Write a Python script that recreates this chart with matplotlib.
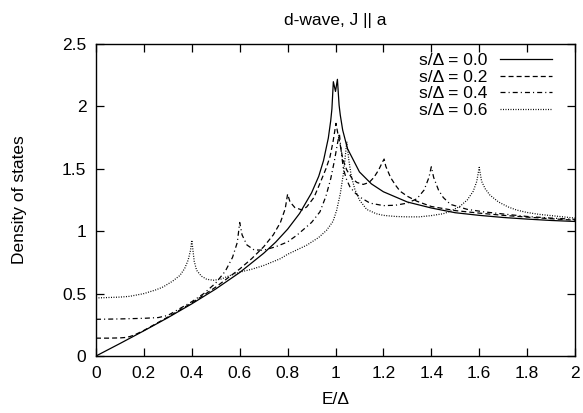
import matplotlib
matplotlib.use("Agg")
import matplotlib.pyplot as plt

plt.rcParams['font.family'] = ['Liberation Sans', 'DejaVu Sans']
plt.rcParams['lines.scale_dashes'] = False

# ---- data ----
e_s00 = [0, 0.1, 0.2, 0.3, 0.4, 0.5, 0.6, 0.7, 0.75, 0.8, 0.85, 0.9, 0.93, 0.95,
         0.97, 0.98, 0.985, 0.991, 1.0, 1.008, 1.015, 1.02, 1.03, 1.05, 1.1, 1.15,
         1.2, 1.3, 1.4, 1.5, 1.6, 1.7, 1.8, 1.9, 2.0]
n_s00 = [0, 0.100, 0.202, 0.307, 0.418, 0.537, 0.669, 0.823, 0.912, 1.016, 1.142,
         1.307, 1.44, 1.566, 1.746, 1.885, 1.98, 2.198, 2.12, 2.217, 2.01, 1.93,
         1.81, 1.662, 1.475, 1.379, 1.316, 1.234, 1.186, 1.148, 1.127, 1.110,
         1.097, 1.086, 1.078]

e_s02 = [0, 0.05, 0.1, 0.12, 0.14, 0.16, 0.2, 0.3, 0.4, 0.5, 0.6, 0.65, 0.7, 0.74,
         0.77, 0.79, 0.80, 0.81, 0.83, 0.86, 0.88, 0.91, 0.935, 0.96, 0.977, 0.99,
         1.002, 1.01, 1.019, 1.03, 1.047, 1.07, 1.09, 1.116, 1.14, 1.16, 1.18,
         1.195, 1.203, 1.21, 1.23, 1.25, 1.27, 1.3, 1.34, 1.4, 1.5, 1.6, 1.7, 1.8,
         1.9, 2.0]
n_s02 = [0.143, 0.143, 0.145, 0.148, 0.155, 0.168, 0.205, 0.312, 0.425, 0.552,
         0.697, 0.78, 0.875, 0.97, 1.07, 1.18, 1.297, 1.235, 1.19, 1.17, 1.195,
         1.27, 1.383, 1.50, 1.596, 1.72, 1.864, 1.78, 1.70, 1.58, 1.49, 1.42,
         1.39, 1.375, 1.39, 1.43, 1.49, 1.55, 1.578, 1.52, 1.43, 1.37, 1.32, 1.28,
         1.24, 1.198, 1.165, 1.145, 1.127, 1.113, 1.10, 1.088]

e_s04 = [0, 0.1, 0.2, 0.26, 0.3, 0.35, 0.4, 0.45, 0.5, 0.54, 0.57, 0.59, 0.60,
         0.61, 0.63, 0.66, 0.7, 0.75, 0.8, 0.84, 0.9, 0.935, 0.96, 0.98, 0.995,
         1.008, 1.016, 1.025, 1.033, 1.045, 1.06, 1.08, 1.1, 1.144, 1.2, 1.25,
         1.3, 1.34, 1.37, 1.39, 1.40, 1.41, 1.43, 1.45, 1.48, 1.55, 1.62, 1.7,
         1.8, 1.9, 2.0]
n_s04 = [0.294, 0.297, 0.302, 0.308, 0.325, 0.38, 0.435, 0.50, 0.585, 0.68, 0.79,
         0.91, 1.07, 0.97, 0.89, 0.85, 0.848, 0.875, 0.914, 0.97, 1.07, 1.155,
         1.28, 1.42, 1.56, 1.70, 1.784, 1.62, 1.50, 1.42, 1.356, 1.31, 1.275,
         1.225, 1.205, 1.208, 1.225, 1.26, 1.33, 1.43, 1.516, 1.43, 1.33, 1.27,
         1.215, 1.175, 1.155, 1.138, 1.118, 1.105, 1.095]

e_s06 = [0, 0.1, 0.14, 0.2, 0.25, 0.28, 0.32, 0.35, 0.37, 0.385, 0.395, 0.40,
         0.41, 0.42, 0.44, 0.462, 0.49, 0.52, 0.56, 0.6, 0.65, 0.7, 0.77, 0.8,
         0.88, 0.93, 0.963, 0.99, 1.005, 1.02, 1.033, 1.042, 1.047, 1.055, 1.065,
         1.08, 1.1, 1.13, 1.17, 1.2, 1.25, 1.3, 1.35, 1.4, 1.45, 1.48, 1.52, 1.55,
         1.575, 1.59, 1.60, 1.61, 1.625, 1.645, 1.68, 1.72, 1.757, 1.8, 1.85, 1.9,
         2.0]
n_s06 = [0.465, 0.472, 0.478, 0.50, 0.53, 0.553, 0.60, 0.645, 0.70, 0.77, 0.85,
         0.928, 0.76, 0.687, 0.64, 0.615, 0.607, 0.615, 0.645, 0.672, 0.695,
         0.725, 0.78, 0.815, 0.888, 0.95, 1.008, 1.08, 1.169, 1.30, 1.463, 1.62,
         1.717, 1.58, 1.45, 1.34, 1.25, 1.175, 1.14, 1.127, 1.118, 1.115, 1.115,
         1.125, 1.14, 1.16, 1.20, 1.25, 1.32, 1.40, 1.511, 1.40, 1.34, 1.289,
         1.235, 1.195, 1.169, 1.15, 1.135, 1.125, 1.105]

labels = ["s/\u0394 = 0.0", "s/\u0394 = 0.2", "s/\u0394 = 0.4", "s/\u0394 = 0.6"]
x_ticks = [0, 0.2, 0.4, 0.6, 0.8, 1, 1.2, 1.4, 1.6, 1.8, 2]
x_ticklabels = ["0", "0.2", "0.4", "0.6", "0.8", "1", "1.2", "1.4", "1.6", "1.8", "2"]
y_ticks = [0, 0.5, 1, 1.5, 2, 2.5]
y_ticklabels = ["0", "0.5", "1", "1.5", "2", "2.5"]

# ---- figure ----
W, H = 583, 413
FS = 12.5
fig = plt.figure(figsize=(W / 100, H / 100), dpi=100)
ax = fig.add_axes([96 / W, 1 - 356 / H, (575 - 96) / W, (356 - 44) / H])

lw = 0.9
ax.plot(e_s00, n_s00, color='black', lw=lw, linestyle='-', label=labels[0])
ax.plot(e_s02, n_s02, color='black', lw=lw, linestyle=(0, (3.6, 2.2)), label=labels[1])
ax.plot(e_s04, n_s04, color='black', lw=lw, linestyle=(0, (3.6, 2.2, 0.8, 2.2)), label=labels[2])
ax.plot(e_s06, n_s06, color='black', lw=lw, linestyle=(0, (0.7, 1.1)), label=labels[3])

ax.set_xlim(0, 2)
ax.set_ylim(0, 2.5)
ax.set_xticks(x_ticks)
ax.set_xticklabels(x_ticklabels)
ax.set_yticks(y_ticks)
ax.set_yticklabels(y_ticklabels)
ax.tick_params(direction='in', length=6, width=0.9, top=True, right=True,
               labelsize=FS, pad=7)
for sp in ax.spines.values():
    sp.set_linewidth(1.0)

ax.set_xlabel("E/\u0394", fontsize=FS, labelpad=8)
ax.set_ylabel("Density of states", fontsize=FS, labelpad=25)
ax.set_title("d-wave, J || a", fontsize=FS, pad=14)

leg = ax.legend(loc='upper right', frameon=False, markerfirst=False, fontsize=FS,
                handlelength=3.0, handletextpad=0.7, labelspacing=0.08,
                borderaxespad=0, borderpad=0,
                bbox_to_anchor=(552 / W, 1 - 53 / H), bbox_transform=fig.transFigure)

fig.savefig("out.png", dpi=100)
